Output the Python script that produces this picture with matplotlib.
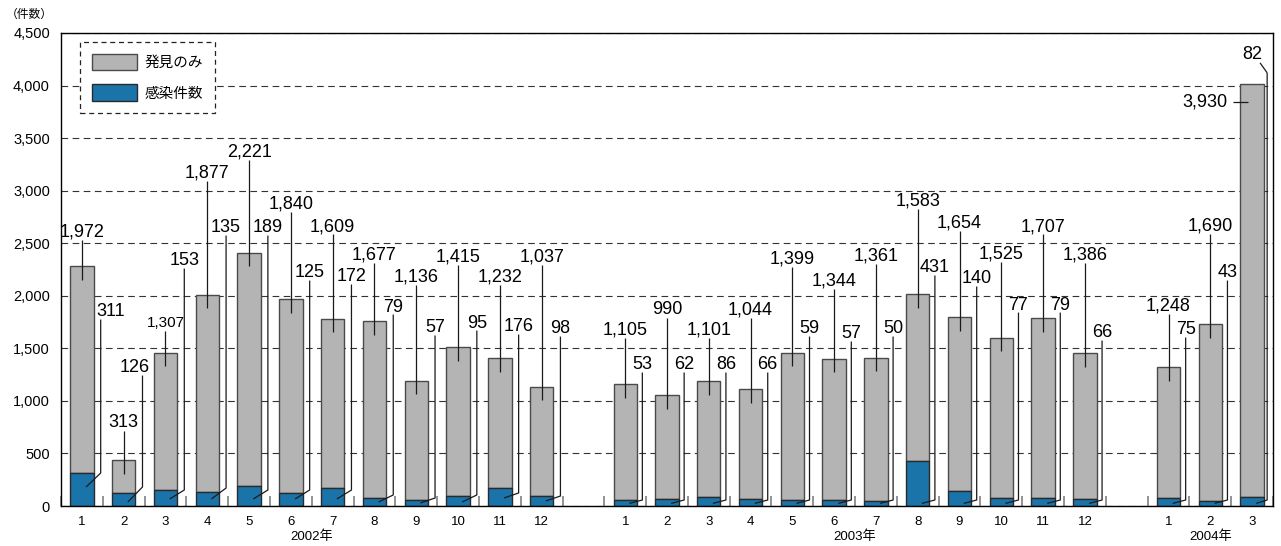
import numpy as np
import matplotlib
matplotlib.use("Agg")
import matplotlib.pyplot as plt
from matplotlib.patches import Patch

plt.rcParams['font.family'] = ['Liberation Sans', 'Noto Sans CJK JP']

# ---- data -------------------------------------------------------------
years = ['2002年', '2003年', '2004年']
months = [list(range(1, 13)), list(range(1, 13)), [1, 2, 3]]

found_only = [1972, 313, 1307, 1877, 2221, 1840, 1609, 1677, 1136, 1415, 1232, 1037,
              1105, 990, 1101, 1044, 1399, 1344, 1361, 1583, 1654, 1525, 1707, 1386,
              1248, 1690, 3930]
infected = [311, 126, 153, 135, 189, 125, 172, 79, 57, 95, 176, 98,
            53, 62, 86, 66, 59, 57, 50, 431, 140, 77, 79, 66,
            75, 43, 82]

series_names = ['発見のみ', '感染件数']
colors = ['#b4b4b4', '#1a74a9']

# ---- callout layout (label heights in data units) ----------------------
found_label_y = [2607, 790, 1741, 3168, 3368, 2873, 2655, 2388, 2179, 2369, 2179, 2369,
                 1675, 1865, 1675, 1865, 2350, 2141, 2379, 2902, 2693, 2398, 2655, 2388,
                 1903, 2664, 3844]
infected_label_y = [1846, 1313, 2331, 2645, 2645, 2217, 2179, 1893, 1694, 1741, 1703, 1684,
                    1342, 1342, 1342, 1342, 1684, 1637, 1684, 2265, 2160, 1912, 1912, 1646,
                    1675, 2217, 4291]
# horizontal nudge of the right-hand callout text relative to its leader
infected_label_dx = [0.25, -0.19] + [0.0] * 24 + [-0.36]
# elbow of the right-hand leader: (knee height, end height inside blue segment)
elbows = [(314, 181), (181, 38), (152, 67), (171, 67), (152, 67), (152, 67), (152, 67),
          (105, 38), (76, 29), (105, 38), (124, 76), (95, 48)] + [(57, 25)] * 15
small_found_labels = {2}

# ---- positions ------------------------------------------------------
pos = []
start = 0
year_centers = []
for ms in months:
    p = start + np.arange(len(ms))
    pos.extend(p)
    year_centers.append(p.mean())
    start += len(ms) + 1
pos = np.array(pos, dtype=float)
month_labels = [str(m) for ms in months for m in ms]

fig = plt.figure(figsize=(12.81, 5.46), dpi=100)
ax = fig.add_axes([61 / 1281, 1 - 506 / 546, (1273 - 61) / 1281, (506 - 33) / 546])

bar_w = 0.56
ax.bar(pos, found_only, bottom=infected, width=bar_w, color=colors[0],
       edgecolor='#4a4a4a', linewidth=1.0, zorder=3)
ax.bar(pos, infected, width=bar_w, color=colors[1],
       edgecolor='#2a2a2a', linewidth=1.0, zorder=3)

line_kw = dict(color='#1a1a1a', lw=0.9, zorder=4, solid_capstyle='butt')
txt_kw = dict(ha='center', va='center', color='black', zorder=5)
label_fs = 13

for i, p in enumerate(pos):
    top = found_only[i] + infected[i]
    # callout for 発見のみ
    fy = found_label_y[i]
    fs = 11 if i in small_found_labels else label_fs
    if fy < top:
        ax.text(p - 0.58, fy, f'{found_only[i]:,}', fontsize=fs,
                ha='right', va='center', zorder=5)
        ax.plot([p - 0.46, p - 0.11], [fy, fy], **line_kw)
    else:
        ax.text(p, fy, f'{found_only[i]:,}', fontsize=fs, **txt_kw)
        ax.plot([p, p], [fy - 72, top - 130], **line_kw)

    # callout for 感染件数
    lx = p + (0.45 if i < 12 else 0.41)
    if i == len(pos) - 1:
        lx = p + 0.36
    iy = infected_label_y[i]
    dx = infected_label_dx[i]
    ax.text(lx + dx, iy, f'{infected[i]:,}', fontsize=label_fs, **txt_kw)
    knee, end = elbows[i]
    if abs(dx) > 0.3:
        ax.plot([lx + dx + 0.19, lx], [iy - 75, iy - 170], **line_kw)
        vtop = iy - 170
    else:
        vtop = iy - 72
    ax.plot([lx, lx, p + 0.1], [vtop, knee, end], **line_kw)

# axes styling
ax.set_xlim(-0.5, 28.5)
ax.set_ylim(0, 4500)
yt = np.arange(0, 4501, 500)
ax.set_yticks(yt, [f'{v:,}' for v in yt])
ax.tick_params(axis='y', length=0, pad=8, labelsize=10.5)
ax.yaxis.grid(True, linestyle=(0, (6, 4)), color='#333333', lw=0.8)
ax.set_axisbelow(True)

ax.set_xticks(pos, month_labels)
ax.tick_params(axis='x', which='major', length=0, pad=7, labelsize=9.5)
ax.set_xticks(np.union1d(pos - 0.5, pos + 0.5), minor=True)
ax.tick_params(axis='x', which='minor', direction='in', length=7, width=1.3,
               color='#8a8a8a')

for s in ax.spines.values():
    s.set_linewidth(1.0)
    s.set_color('black')
    s.set_zorder(6)

for yc, yl in zip(year_centers, years):
    ax.annotate(yl, xy=(yc, 0), xycoords=('data', 'axes fraction'),
                xytext=(0, -21.8), textcoords='offset points',
                ha='center', va='center', fontsize=9.5)

handles = [Patch(facecolor=colors[0], edgecolor='#4a4a4a', lw=1.0),
           Patch(facecolor=colors[1], edgecolor='#2a2a2a', lw=1.0)]
leg = ax.legend(handles, series_names, loc='upper left',
                bbox_to_anchor=(0.0157, 0.981), borderaxespad=0, fontsize=10.5,
                handlelength=3.1, handleheight=1.4, labelspacing=0.95,
                borderpad=0.8, handletextpad=0.55, frameon=True, fancybox=False)
frame = leg.get_frame()
frame.set_linestyle((0, (4, 3)))
frame.set_edgecolor('#222222')
frame.set_linewidth(0.9)
frame.set_facecolor('white')
frame.set_alpha(1)
leg.set_zorder(7)

fig.text(29 / 1281, 1 - 15 / 546, '（件数）', fontsize=8.5, ha='center', va='center')

fig.savefig('out.png', dpi=100)
